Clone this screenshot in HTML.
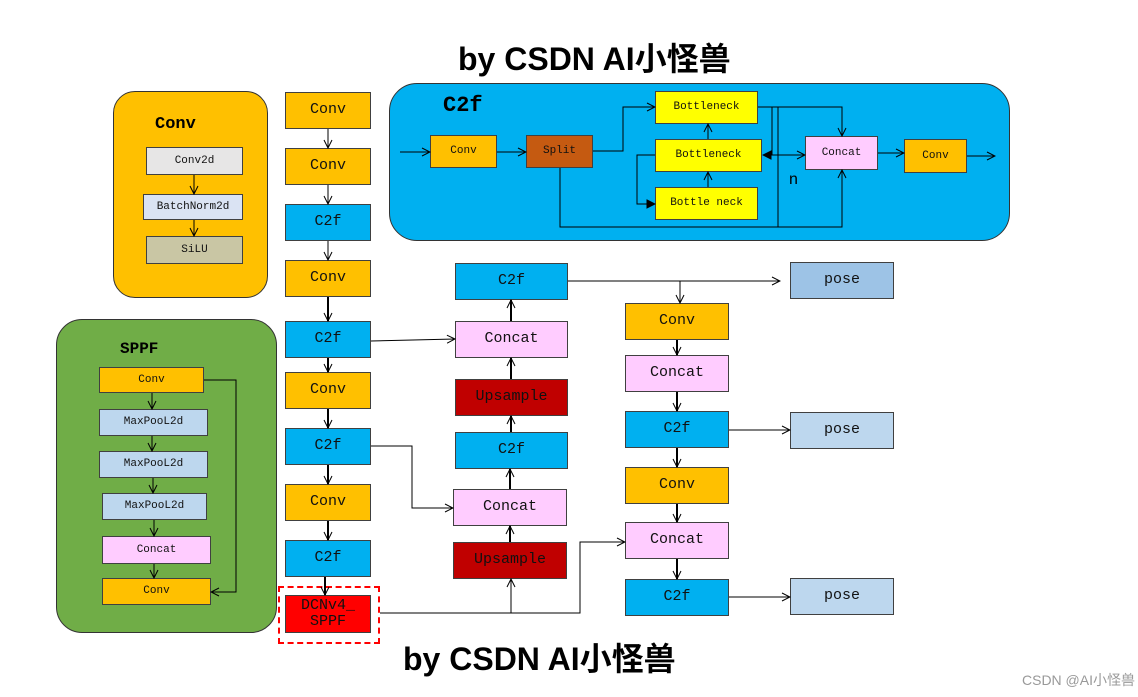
<!DOCTYPE html><html><head><meta charset="utf-8"><style>
body{margin:0;width:1138px;height:697px;background:#fff;position:relative;overflow:hidden;font-family:"Liberation Mono",monospace}
.b{position:absolute;box-sizing:border-box;border:1px solid #404040;display:flex;align-items:center;justify-content:center;font-size:15px;color:#111;text-align:center;line-height:1.1}
.s{font-size:11px}
.p{position:absolute;box-sizing:border-box;border:1px solid #333}
.t{position:absolute;font-family:"Liberation Sans","Noto Sans CJK SC",sans-serif;font-weight:bold;font-size:32px;color:#000}
.o{background:#ffc000}.c{background:#00b0f0}.k{background:#ffccff}.u{background:#c00000}.y{background:#ffff00}
</style></head><body>
<div class="t" style="left:458px;top:34px">by CSDN AI小怪兽</div>
<div class="t" style="left:403px;top:634px">by CSDN AI小怪兽</div>
<div style="position:absolute;left:1022px;top:670px;font-family:'Liberation Sans','Noto Sans CJK SC',sans-serif;font-size:14px;color:#999">CSDN @AI小怪兽</div>

<div class="p" style="left:113px;top:91px;width:155px;height:207px;background:#ffc000;border-radius:22px"></div>
<div style="position:absolute;left:155px;top:115px;font-weight:bold;font-size:17px">Conv</div>
<div class="b s" style="left:146px;top:147px;width:97px;height:28px;background:#e7e6e6">Conv2d</div>
<div class="b s" style="left:143px;top:194px;width:100px;height:26px;background:#dae3f3">BatchNorm2d</div>
<div class="b s" style="left:146px;top:236px;width:97px;height:28px;background:#c9c6a4">SiLU</div>

<div class="p" style="left:56px;top:319px;width:221px;height:314px;background:#70ad47;border-radius:26px"></div>
<div style="position:absolute;left:120px;top:340px;font-weight:bold;font-size:16px">SPPF</div>
<div class="b s o" style="left:99px;top:367px;width:105px;height:26px">Conv</div>
<div class="b s" style="left:99px;top:409px;width:109px;height:27px;background:#bdd7ee">MaxPooL2d</div>
<div class="b s" style="left:99px;top:451px;width:109px;height:27px;background:#bdd7ee">MaxPooL2d</div>
<div class="b s" style="left:102px;top:493px;width:105px;height:27px;background:#bdd7ee">MaxPooL2d</div>
<div class="b s k" style="left:102px;top:536px;width:109px;height:28px">Concat</div>
<div class="b s o" style="left:102px;top:578px;width:109px;height:27px">Conv</div>

<div class="p" style="left:389px;top:83px;width:621px;height:158px;background:#00b0f0;border-radius:28px"></div>
<div style="position:absolute;left:443px;top:93px;font-weight:bold;font-size:22px">C2f</div>
<div class="b s o" style="left:430px;top:135px;width:67px;height:33px">Conv</div>
<div class="b s" style="left:526px;top:135px;width:67px;height:33px;background:#c55a11">Split</div>
<div class="b s y" style="left:655px;top:91px;width:103px;height:33px">Bottleneck</div>
<div class="b s y" style="left:655px;top:139px;width:107px;height:33px">Bottleneck</div>
<div class="b s y" style="left:655px;top:187px;width:103px;height:33px">Bottle neck</div>
<div class="b s k" style="left:805px;top:136px;width:73px;height:34px">Concat</div>
<div class="b s o" style="left:904px;top:139px;width:63px;height:34px">Conv</div>
<div style="position:absolute;left:789px;top:171px;font-family:'Liberation Sans',sans-serif;font-size:16px">n</div>

<div class="b o" style="left:285px;top:92px;width:86px;height:37px">Conv</div>
<div class="b o" style="left:285px;top:148px;width:86px;height:37px">Conv</div>
<div class="b c" style="left:285px;top:204px;width:86px;height:37px">C2f</div>
<div class="b o" style="left:285px;top:260px;width:86px;height:37px">Conv</div>
<div class="b c" style="left:285px;top:321px;width:86px;height:37px">C2f</div>
<div class="b o" style="left:285px;top:372px;width:86px;height:37px">Conv</div>
<div class="b c" style="left:285px;top:428px;width:86px;height:37px">C2f</div>
<div class="b o" style="left:285px;top:484px;width:86px;height:37px">Conv</div>
<div class="b c" style="left:285px;top:540px;width:86px;height:37px">C2f</div>
<div style="position:absolute;left:278px;top:586px;width:102px;height:58px;box-sizing:border-box;border:2px dashed #f00"></div>
<div class="b" style="left:285px;top:595px;width:86px;height:38px;background:#f00">DCNv4_<br>SPPF</div>

<div class="b c" style="left:455px;top:263px;width:113px;height:37px">C2f</div>
<div class="b k" style="left:455px;top:321px;width:113px;height:37px">Concat</div>
<div class="b u" style="left:455px;top:379px;width:113px;height:37px">Upsample</div>
<div class="b c" style="left:455px;top:432px;width:113px;height:37px">C2f</div>
<div class="b k" style="left:453px;top:489px;width:114px;height:37px">Concat</div>
<div class="b u" style="left:453px;top:542px;width:114px;height:37px">Upsample</div>

<div class="b o" style="left:625px;top:303px;width:104px;height:37px">Conv</div>
<div class="b k" style="left:625px;top:355px;width:104px;height:37px">Concat</div>
<div class="b c" style="left:625px;top:411px;width:104px;height:37px">C2f</div>
<div class="b o" style="left:625px;top:467px;width:104px;height:37px">Conv</div>
<div class="b k" style="left:625px;top:522px;width:104px;height:37px">Concat</div>
<div class="b c" style="left:625px;top:579px;width:104px;height:37px">C2f</div>

<div class="b" style="left:790px;top:262px;width:104px;height:37px;background:#9dc3e6">pose</div>
<div class="b" style="left:790px;top:412px;width:104px;height:37px;background:#bdd7ee">pose</div>
<div class="b" style="left:790px;top:578px;width:104px;height:37px;background:#bdd7ee">pose</div>

<svg width="1138" height="697" style="position:absolute;left:0;top:0" fill="none" stroke="#000">
<defs><marker id="a" markerWidth="10" markerHeight="10" refX="9" refY="5" orient="auto" markerUnits="userSpaceOnUse"><path d="M1,1L9,5L1,9" stroke="#000"/></marker>
<marker id="f" markerWidth="10" markerHeight="10" refX="9" refY="5" orient="auto" markerUnits="userSpaceOnUse"><path d="M1,1L9,5L1,9Z" fill="#000"/></marker></defs>
<g stroke-width="1" marker-end="url(#a)">
<path d="M194,175V194"/><path d="M194,220V236"/>
<path d="M152,393V409"/><path d="M152,436V451"/><path d="M153,478V493"/><path d="M154,520V536"/><path d="M154,564V578"/>
<path d="M204,380H236V592H211"/>
<path d="M328,129V148"/><path d="M328,185V204"/><path d="M328,241V260"/>
<path d="M400,152H430"/><path d="M497,152H526"/><path d="M593,151H623V107H655"/>
<path d="M708,139V124"/><path d="M708,187V172"/>
<path d="M758,107H842V136"/><path d="M770,155H805"/>
<path d="M878,153H904"/><path d="M967,156H995"/>
<path d="M560,168V227H842V170"/>
<path d="M371,341L455,339"/><path d="M371,446H412V508H453"/>
<path d="M380,613H580V542H625"/><path d="M511,613V579"/>
<path d="M568,281H780"/><path d="M680,281V303"/>
<path d="M729,430H790"/><path d="M729,597H790"/>
</g>
<path d="M778,107V227"/><path d="M772,107V155"/>
<path d="M772,155H763" marker-end="url(#f)"/>
<path d="M655,155H637V204H655" marker-end="url(#f)"/>
<g stroke-width="2" marker-end="url(#a)">
<path d="M328,297V321"/><path d="M328,358V372"/><path d="M328,409V428"/><path d="M328,465V484"/><path d="M328,521V540"/><path d="M325,577V595"/>
<path d="M511,321V300"/><path d="M511,379V358"/><path d="M511,432V416"/><path d="M510,489V469"/><path d="M510,542V526"/>
<path d="M677,340V355"/><path d="M677,392V411"/><path d="M677,448V467"/><path d="M677,504V522"/><path d="M677,559V579"/>
</g>
</svg>
</body></html>
